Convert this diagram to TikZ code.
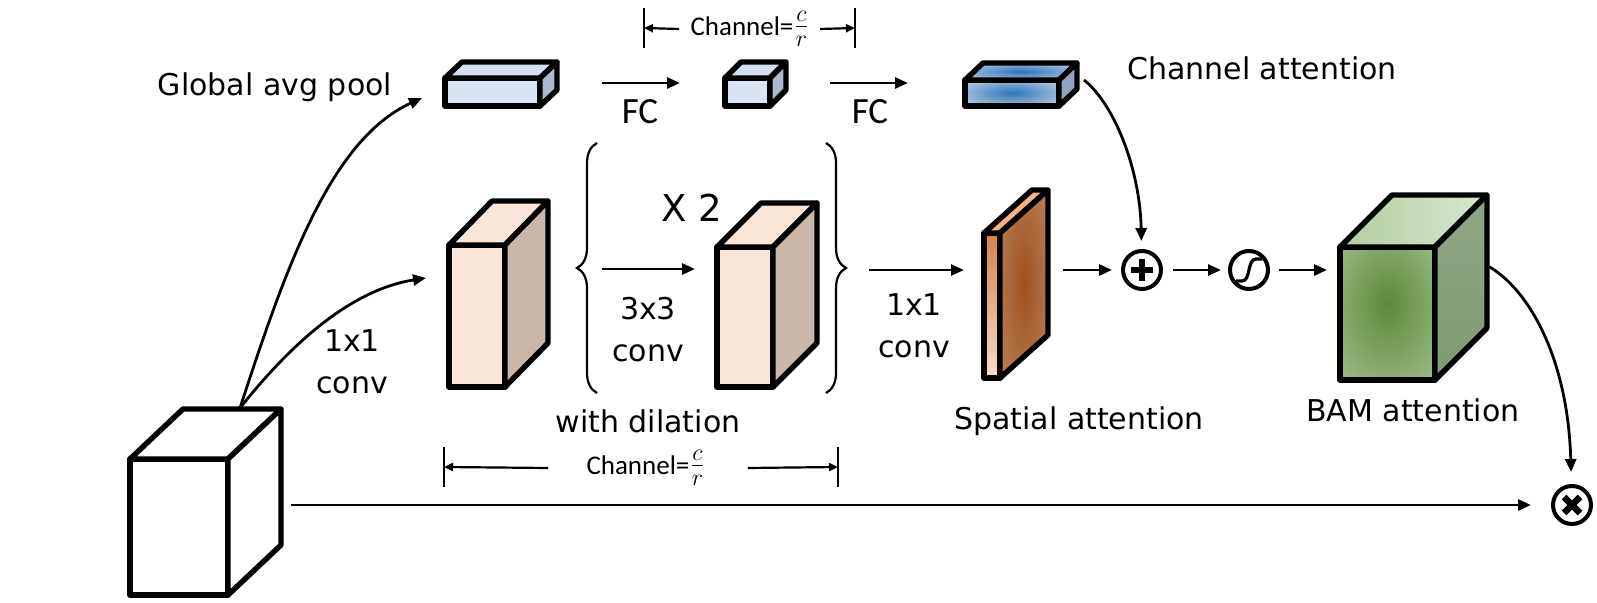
\documentclass[tikz,border=0pt]{standalone}
\usepackage{fontspec}
\setmainfont{DejaVu Sans}
\newfontfamily\calfont{Carlito}
\usetikzlibrary{arrows.meta,calc,decorations.pathreplacing}

\definecolor{PeachFront}{HTML}{FBE5D6}
\definecolor{PeachSide}{HTML}{C9B8AA}
\definecolor{PoolFront}{HTML}{DAE3F3}
\definecolor{PoolTop}{HTML}{D5DFF1}
\definecolor{PoolSide}{HTML}{ADB9CA}
\definecolor{AttBlue}{HTML}{2E75B6}
\definecolor{AttLight}{HTML}{D6E1F2}
\definecolor{AttSide}{HTML}{8FA2BE}
\definecolor{SpOrange}{HTML}{D4834A}
\definecolor{SpLight}{HTML}{F8DCC8}
\definecolor{SpTop}{HTML}{F4B183}
\definecolor{SpBrown}{HTML}{A0501C}
\definecolor{SpEdge}{HTML}{D0B3A0}
\definecolor{BamGreen}{HTML}{5B8A3A}
\definecolor{BamLight}{HTML}{DDEBD3}
\definecolor{BamTopL}{HTML}{B3CD9F}
\definecolor{BamTopR}{HTML}{D9E8CE}
\definecolor{BamSideT}{HTML}{8FA783}
\definecolor{BamSideB}{HTML}{809A72}

\pgfdeclareradialshading{attshade}{\pgfpoint{0bp}{0bp}}{color(0bp)=(AttBlue); color(40bp)=(AttLight); color(72bp)=(AttLight)}
\pgfdeclareradialshading{spshade}{\pgfpoint{0bp}{0bp}}{color(0bp)=(SpBrown); color(70bp)=(SpEdge)}
\pgfdeclareradialshading{bamshade}{\pgfpoint{0bp}{4bp}}{color(0bp)=(BamGreen); color(72bp)=(BamLight)}

\tikzset{
  face/.style={draw=black, line width=2.7pt, line join=round},
  front/.style={face, inner sep=0pt, outer sep=0pt, anchor=north west},
  arr/.style={line width=1.4pt, -{Triangle[length=6.5pt,width=5.5pt]}},
  dimarr/.style={line width=1.1pt, -{Triangle[length=4.5pt,width=4pt]}},
  dimbar/.style={line width=1.3pt},
  bracket/.style={line width=1.1pt, decorate, decoration={brace, amplitude=10pt}},
  opnode/.style={circle, draw, line width=2pt, minimum size=19pt, inner sep=0pt},
  lbl/.style={font=\fontsize{15}{21}\selectfont, align=center, inner sep=0pt},
  cal/.style={font=\calfont\fontsize{13.5}{16}\selectfont, inner sep=0pt},
}

% top and side faces of a box whose front face is node #1
\newcommand{\cubefaces}[5]{%
  \draw[face,#4] (#1.north west) -- ++(#2,#3) -- ($(#1.north east)+(#2,#3)$) -- (#1.north east) -- cycle;
  \draw[face,#5] (#1.north east) -- ++(#2,#3) -- ($(#1.south east)+(#2,#3)$) -- (#1.south east) -- cycle;
}
% c over r, a little larger than a plain text fraction
\newcommand{\chratio}{{\fontsize{17}{17}\selectfont$\frac{c}{r}$}}

\begin{document}
\begin{tikzpicture}[x=0.5pt,y=0.5pt,yscale=-1,xscale=1]
\path[use as bounding box] (0,0) rectangle (1597,603);

%Shape: Cube [input]
\node[front, fill=white, minimum width=49pt, minimum height=68pt] (inp) at (130,459) {};
\cubefaces{inp}{53}{-50}{fill=white}{fill=white}

%Shape: Cube [conv blocks]
\node[front, fill=PeachFront, minimum width=28pt, minimum height=71pt] (convA) at (449,245) {};
\cubefaces{convA}{43}{-44}{fill=PeachFront}{fill=PeachSide}
\node[front, fill=PeachFront, minimum width=28pt, minimum height=70pt] (convB) at (717,247) {};
\cubefaces{convB}{44}{-44}{fill=PeachFront}{fill=PeachSide}

%Shape: Cube [channel branch]
\node[front, fill=PoolFront, minimum width=47.5pt, minimum height=14pt] (pool) at (445,78) {};
\cubefaces{pool}{17}{-16}{fill=PoolTop}{fill=PoolSide}
\node[front, fill=PoolFront, minimum width=22.5pt, minimum height=14pt] (fcbox) at (725,78) {};
\cubefaces{fcbox}{16}{-16}{fill=PoolTop}{fill=PoolSide}
\node[front, shading=attshade, minimum width=47pt, minimum height=13pt] (chatt) at (965,80) {};
\cubefaces{chatt}{18}{-17}{shading=attshade}{fill=AttSide}

%Shape: Cube [spatial attention]
\node[front, top color=SpOrange, bottom color=SpLight, minimum width=8pt, minimum height=72.5pt] (spatt) at (984,233) {};
\cubefaces{spatt}{48}{-43}{fill=SpTop}{shading=spshade}

%Shape: Cube [BAM attention]
\node[front, shading=bamshade, minimum width=47.5pt, minimum height=66.5pt] (bam) at (1340,247) {};
\cubefaces{bam}{52}{-52}{left color=BamTopL, right color=BamTopR}{top color=BamSideT, bottom color=BamSideB}

%Shape: Operators
\node[opnode] (plus) at (1142,270) {};
\draw[line width=3.2pt] (plus.center) ++(-11,0) -- ++(22,0) (plus.center) ++(0,-11) -- ++(0,22);
\node[opnode] (sig) at (1249,270) {};
\draw[line width=1.6pt] (1236,281) -- (1242,281) .. controls (1251,281) and (1247,259) .. (1256,259) -- (1262,259);
\node[opnode] (times) at (1572,505) {};
\draw[line width=3.2pt] (times.center) ++(-8,-8) -- ++(16,16) (times.center) ++(-8,8) -- ++(16,-16);

%Shape: Braces
\draw[bracket] (597,393) -- (597,143);
\draw[bracket] (826,143) -- (826,393);

% Text Node
\node[lbl] (t-pool) at (275,87) {Global avg pool};
\node[lbl] (t-conv1) at (352,362) {1x1\\conv};
\node[lbl] (t-conv3) at (648,330) {3x3\\conv};
\node[lbl] (t-conv2) at (914,326) {1x1\\conv};
\node[lbl, font=\fontsize{18.5}{22}\selectfont] (t-rep) at (692,208) {X 2};
\node[lbl] (t-dil) at (648,421) {with dilation};
\node[lbl] (t-spatt) at (1079,421) {Spatial attention};
\node[lbl] (t-chatt) at (1262,68) {Channel attention};
\node[lbl] (t-bam) at (1413,410) {BAM attention};
\node[cal, font=\calfont\fontsize{18.5}{22}\selectfont] (t-fc1) at (640,112) {FC};
\node[cal, font=\calfont\fontsize{18.5}{22}\selectfont] (t-fc2) at (870,112) {FC};

%Dimension: channel width (top)
\coordinate (dt-l) at (644,28);
\coordinate (dt-r) at (855,28);
\draw[dimbar] (dt-l) ++(0,-20) -- ++(0,40) (dt-r) ++(0,-20) -- ++(0,40);
\node[cal] (t-ch1) at (750,29) {Channel=\chratio};
\draw[dimarr] ([xshift=-5.5pt]t-ch1.west) -- (dt-l);
\draw[dimarr] ([xshift=5pt]t-ch1.east) -- (dt-r);

%Dimension: channel width (bottom)
\coordinate (db-l) at (444,467);
\coordinate (db-r) at (838,467);
\draw[dimbar] (db-l) ++(0,-20) -- ++(0,40) (db-r) ++(0,-20) -- ++(0,40);
\node[cal] (t-ch2) at (646,468) {Channel=\chratio};
\draw[dimarr] ([xshift=-19pt]t-ch2.west) -- (db-l);
\draw[dimarr] ([xshift=21pt]t-ch2.east) -- (db-r);

%Connectors
\coordinate (inp-top) at (240,408);
\coordinate (pool-in) at (422,98);
\coordinate (conv-in) at (426,278);
\draw[arr] (inp-top) .. controls (285,270) and (330,140) .. (pool-in);
\draw[arr] (inp-top) .. controls (290,345) and (350,290) .. (conv-in);

\coordinate (fc1-s) at (602,83);
\coordinate (fc1-e) at (680,83);
\draw[arr] (fc1-s) -- (fc1-e);
\coordinate (fc2-s) at (830,83);
\coordinate (fc2-e) at (908,83);
\draw[arr] (fc2-s) -- (fc2-e);

\coordinate (dil-s) at (602,269);
\coordinate (dil-e) at (695,269);
\draw[arr] (dil-s) -- (dil-e);
\coordinate (sp-s) at (869,270);
\coordinate (sp-e) at (964,270);
\draw[arr] (sp-s) -- (sp-e);

\coordinate (spatt-out) at (1063,270);
\draw[arr, shorten >=4.5pt] (spatt-out) -- (plus);
\draw[arr, shorten <=5pt, shorten >=3.5pt] (plus) -- (sig);
\coordinate (bam-in) at (1327,270);
\draw[arr, shorten <=4.5pt] (sig) -- (bam-in);

\coordinate (chatt-out) at (1084,80);
\draw[arr, shorten >=4pt] (chatt-out) .. controls (1115,105) and (1140,170) .. (plus);

\coordinate (bam-out) at (1488,266);
\draw[arr, shorten >=6pt] (bam-out) .. controls (1530,290) and (1568,360) .. (times);

\coordinate (inp-out) at (291,505);
\draw[arr, shorten >=10pt] (inp-out) -- (times);

\end{tikzpicture}
\end{document}
